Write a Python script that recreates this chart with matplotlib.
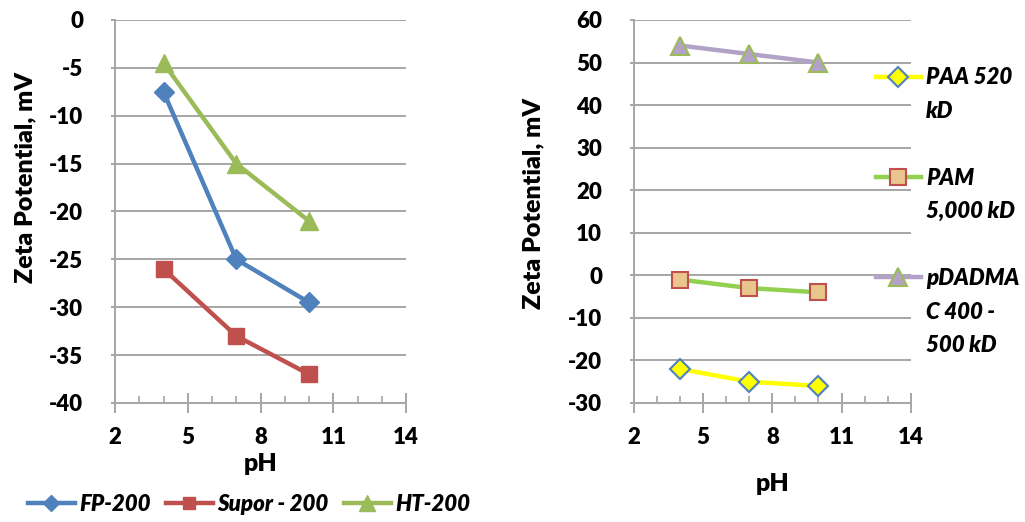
import matplotlib
matplotlib.use('Agg')
import matplotlib.pyplot as plt
from matplotlib.lines import Line2D

plt.rcParams['font.family'] = ['Lato', 'DejaVu Sans']
plt.rcParams['font.weight'] = 'heavy'
plt.rcParams['axes.unicode_minus'] = False

# data
ph = [4, 7, 10]
fp200 = [-7.5, -25, -29.5]
supor200 = [-26, -33, -37]
ht200 = [-4.5, -15, -21]

paa = [-22, -25, -26]
pam = [-1, -3, -4]
pdadmac = [54, 52, 50]

x_ticks = [2, 5, 8, 11, 14]
left_yticks = [0, -5, -10, -15, -20, -25, -30, -35, -40]
right_yticks = [60, 50, 40, 30, 20, 10, 0, -10, -20, -30]

AX_GRAY = '#A6A6A6'


def style_axes(ax, yticks):
    ax.set_xlim(2, 14)
    ax.set_ylim(min(yticks), max(yticks))
    ax.set_xticks(x_ticks)
    ax.set_xticks(range(2, 15), minor=True)
    ax.set_yticks(yticks)
    for s in ['top', 'right']:
        ax.spines[s].set_visible(False)
    for s in ['left', 'bottom']:
        ax.spines[s].set_color(AX_GRAY)
        ax.spines[s].set_linewidth(1.4)
    ax.yaxis.grid(True, color=AX_GRAY, linewidth=1.4)
    ax.set_axisbelow(True)
    ax.tick_params(axis='x', which='major', direction='inout', length=14, width=1.4,
                   color=AX_GRAY, labelsize=16, pad=10)
    ax.tick_params(axis='x', which='minor', direction='in', length=5, width=1.2,
                   color=AX_GRAY)
    ax.tick_params(axis='y', which='major', direction='out', length=3, width=1.4,
                   color=AX_GRAY, labelsize=16, pad=20)
    ax.set_ylabel('Zeta Potential, mV', fontsize=18, fontweight='heavy')
    ax.set_xlabel('pH', fontsize=18, fontweight='heavy')


fig = plt.figure(figsize=(10.25, 5.22), dpi=100)
ax1 = fig.add_axes([0.1122, 0.228, 0.284, 0.7337])
ax2 = fig.add_axes([0.6185, 0.228, 0.270, 0.7337])

ax1.plot(ph, fp200, color='#4F81BD', lw=3.2, marker='D', ms=10, label='FP-200')
ax1.plot(ph, supor200, color='#C0504D', lw=3.2, marker='s', ms=11, label='Supor - 200')
ax1.plot(ph, ht200, color='#9BBB59', lw=3.2, marker='^', ms=13, label='HT-200')
style_axes(ax1, left_yticks)
ax1.yaxis.set_label_coords(-0.27, 0.59)
ax1.xaxis.set_label_coords(0.5, -0.13)

l_paa, = ax2.plot(ph, paa, color='#FFFF00', lw=3.2, marker='D', ms=10,
                  mfc='#FFFF00', mec='#4F81BD', mew=1.5)
l_pam, = ax2.plot(ph, pam, color='#92D050', lw=3.2, marker='s', ms=12,
                  mfc='#E8C68E', mec='#C0504D', mew=1.5)
l_pdad, = ax2.plot(ph, pdadmac, color='#B3A2C7', lw=3.2, marker='^', ms=13,
                   mfc='#B3A2C7', mec='#9BBB59', mew=1.5)
style_axes(ax2, right_yticks)
ax2.yaxis.set_label_coords(-0.325, 0.52)
ax2.xaxis.set_label_coords(0.5, -0.183)

fig.legend(loc='center', bbox_to_anchor=(0.243, 0.033), ncol=3, frameon=False,
           prop={'size': 16, 'style': 'italic', 'weight': 'heavy'},
           handlelength=2.1, handletextpad=0.2, columnspacing=0.7, markerscale=0.85)

blank = Line2D([], [], linestyle='none')
handles = [l_paa, blank, blank, l_pam, blank, blank, l_pdad, blank, blank]
labels = ['PAA 520', 'kD', ' ', 'PAM', '5,000 kD', ' ', 'pDADMA', 'C 400 -', '500 kD']
fig.legend(handles, labels, loc='upper left', bbox_to_anchor=(0.844, 0.892), frameon=False,
           prop={'size': 16, 'style': 'italic', 'weight': 'heavy'},
           handlelength=2.0, handletextpad=0.25, labelspacing=0.56, borderpad=0)

fig.savefig('out.png', dpi=100)
